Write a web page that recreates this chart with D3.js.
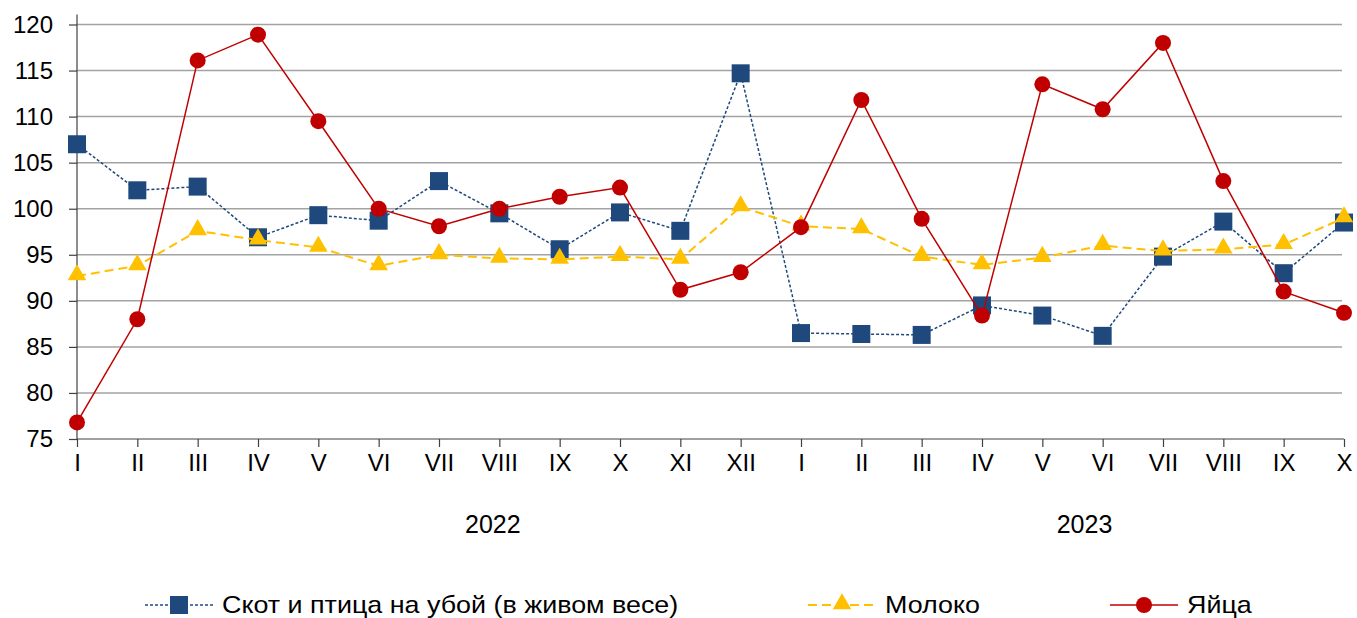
<!DOCTYPE html>
<html>
<head>
<meta charset="utf-8">
<script src="https://cdn.jsdelivr.net/npm/d3@7"></script>
<style>
  body { margin: 0; background: #fff; }
  svg { font-family: 'Liberation Sans', Arial, sans-serif; }
</style>
</head>
<body>
<svg width="1357" height="618"></svg>
<script>
// months (2022: I..XII, 2023: I..X)
const months = ['I','II','III','IV','V','VI','VII','VIII','IX','X','XI','XII',
                'I','II','III','IV','V','VI','VII','VIII','IX','X'];
const years = [{label: '2022', from: 0, to: 11}, {label: '2023', from: 12, to: 21}];
const yTicks = [75, 80, 85, 90, 95, 100, 105, 110, 115, 120];

const livestock = [107.0, 102.0, 102.4, 96.9, 99.3, 98.7, 103.0, 99.5, 95.6, 99.6, 97.6, 114.7,
                   86.5, 86.4, 86.3, 89.5, 88.4, 86.2, 94.8, 98.6, 93.0, 98.5];
const milk = [92.7, 93.8, 97.6, 96.6, 95.8, 93.8, 95.0, 94.6, 94.5, 94.8, 94.5, 100.2,
              98.1, 97.8, 94.8, 93.9, 94.7, 96.0, 95.4, 95.6, 96.1, 99.0];
const eggs = [76.8, 88.0, 116.1, 118.9, 109.5, 100.0, 98.1, 100.0, 101.3, 102.3, 91.2, 93.1,
              98.0, 111.8, 98.9, 88.4, 113.5, 110.8, 118.0, 103.0, 91.0, 88.7];

const series = [
  {name: 'Скот и птица на убой (в живом весе)', values: livestock, color: '#1F497D', dash: '3,2', width: 1.5, marker: 'square'},
  {name: 'Молоко', values: milk, color: '#FFC000', dash: '9,5', width: 2, marker: 'triangle'},
  {name: 'Яйца', values: eggs, color: '#C00000', dash: null, width: 1.5, marker: 'circle'}
];

document.addEventListener('DOMContentLoaded', function() {
  let svg = d3.select('svg');

  let x0 = 77, x1 = 1344, yTop = 24.5, yBot = 439;
  let font = "'Liberation Sans', Arial, sans-serif";

  let x = d3.scalePoint()
    .domain(d3.range(months.length))
    .range([x0, x1]);

  let y = d3.scaleLinear()
    .domain([75, 120])
    .range([yBot, yTop]);

  // gridlines
  svg.append('g').attr('class', 'grid')
    .selectAll('line')
    .data(yTicks.filter(d => d > 75))
    .join('line')
    .attr('x1', x0)
    .attr('x2', 1342)
    .attr('y1', d => y(d))
    .attr('y2', d => y(d))
    .attr('stroke', '#A3A3A3')
    .attr('stroke-width', 1.5);

  // y axis
  let yAxis = svg.append('g')
    .attr('transform', `translate(${x0},0)`)
    .call(d3.axisLeft(y).tickValues(yTicks).tickSize(8).tickPadding(16));
  yAxis.select('.domain').attr('stroke', '#404040').attr('stroke-width', 1.2)
    .attr('d', `M0,${yTop - 10}V${yBot}`);
  yAxis.selectAll('.tick line').attr('stroke', '#404040').attr('stroke-width', 1.2);
  yAxis.selectAll('.tick text')
    .attr('font-size', 24).attr('fill', '#000').attr('font-family', font);

  // x axis
  let xAxis = svg.append('g')
    .attr('transform', `translate(0,${yBot})`)
    .call(d3.axisBottom(x).tickFormat(i => months[i]).tickSize(8).tickPadding(7));
  xAxis.select('.domain').attr('stroke', '#404040').attr('stroke-width', 1.2)
    .attr('d', `M${x0},0H${x1}`);
  xAxis.selectAll('.tick line').attr('stroke', '#404040').attr('stroke-width', 1.2);
  xAxis.selectAll('.tick text')
    .attr('font-size', 24).attr('fill', '#000').attr('font-family', font);

  // year labels
  let yearShift = {'2022': 84, '2023': 12};
  svg.append('g').selectAll('text')
    .data(years)
    .join('text')
    .attr('x', d => (x(d.from) + x(d.to)) / 2 + yearShift[d.label])
    .attr('y', 533)
    .attr('text-anchor', 'middle')
    .attr('font-size', 25)
    .text(d => d.label);

  let line = d3.line()
    .x((d, i) => x(i))
    .y(d => y(d));

  let tri = d3.symbol().type(d3.symbolTriangle).size(150);

  function drawMarker(g, s, cx, cy) {
    if (s.marker === 'square') {
      g.append('rect').attr('x', cx - 9).attr('y', cy - 9).attr('width', 18).attr('height', 18)
        .attr('fill', s.color);
    } else if (s.marker === 'circle') {
      g.append('circle').attr('cx', cx).attr('cy', cy).attr('r', 8).attr('fill', s.color);
    } else {
      g.append('path').attr('d', tri).attr('transform', `translate(${cx},${cy - 1})`)
        .attr('fill', s.color);
    }
  }

  series.forEach(function(s) {
    let g = svg.append('g').attr('class', 'series');
    g.append('path')
      .datum(s.values)
      .attr('d', line)
      .attr('fill', 'none')
      .attr('stroke', s.color)
      .attr('stroke-width', s.width)
      .attr('stroke-dasharray', s.dash);
    s.values.forEach((v, i) => drawMarker(g, s, x(i), y(v)));
  });

  // legend
  let legendX = [145, 808, 1110];
  series.forEach(function(s, k) {
    let g = svg.append('g').attr('transform', `translate(${legendX[k]},605)`);
    g.append('line').attr('x1', 0).attr('x2', 68).attr('y1', 0).attr('y2', 0)
      .attr('stroke', s.color).attr('stroke-width', s.width)
      .attr('stroke-dasharray', s.dash);
    drawMarker(g, s, 34, 0);
    g.append('text')
      .attr('transform', 'translate(77,8) scale(1.12,1)')
      .attr('font-size', 24).text(s.name);
  });
});
</script>
</body>
</html>
